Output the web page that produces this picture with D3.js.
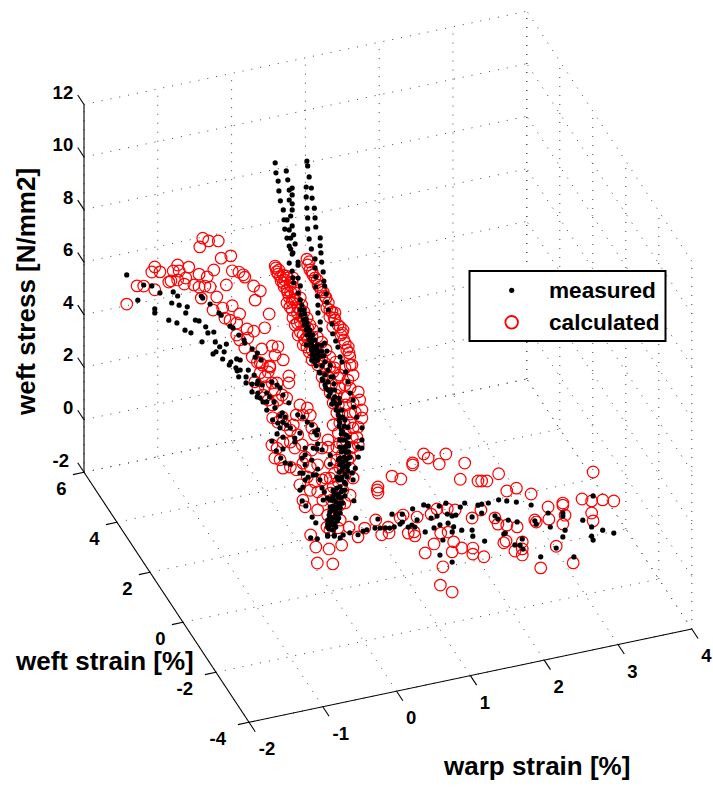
<!DOCTYPE html>
<html>
<head>
<meta charset="utf-8">
<script src="https://cdn.jsdelivr.net/npm/d3@7"></script>
<style>
body { margin: 0; background: #fff; }
svg { display: block; }
text { font-family: "Liberation Sans", Arial, sans-serif; font-weight: bold; fill: #000; }
</style>
</head>
<body>
<script>
const warpTicks = [-2, -1, 0, 1, 2, 3, 4];
const weftTicks = [-4, -2, 0, 2, 4, 6];
const stressTicks = [-2, 0, 2, 4, 6, 8, 10, 12];

// depth can't be read from a 2d view so weft is an estimate per band of points
const bandWefts = [3.5, 3, 1.5, 0, -0.5, -2];

const measuredWarp = [
  [-1.98,-1.75,-1.64,-1.83,-1.53,-1.35,-1.29,-1.37,-1.27,-1.60,-1.60,-1.16,-1.18,-1.41,-1.30,-1.05,-1.00,-.91,-1.19,-1.11,-.80,-.88,-.96,-.78,-.63,-.72,-.66,-.77,-.81,-.68,-.97,-.95,-.85,-.73,-.70,-.58,-.54,-.46,-.39,-.38,-.28,-.21,-.24,-.16,-.57,-.49,-.59,-.50],
  [-.08,-.07,-.04,-.03,-.01,.03,.04,.05,.08,.11,.13,.11,.15,.16,.07,.09,.11,.15,.15,.11,.15,.15,.13,.08,.15,.11,.17,.13,.19,.15,.16,.23,.23,.23,.17,.26,.23,.26,
   .35,.36,.38,.34,.41,.34,.42,.35,.45,.36,.46,.36,.47,.38,.53,.41,.53,.54,.46,.55,.46,.57,.47,.58,.47,.59,.49,.61,.50,.62,.64,.50,.53,.69,.53,.70,.74,.59,.77,.62,.80,
   .28,.31,.32,.34,.35,.36,.38,.39,.41,.41,.42,.43,.45,.46,.34,.46,.50,.54,.55,.39,
   .26,.27,.30,.31,.34,.35,.43,.38,.46,.39,.49,.41,.49,.55,.42,.50,.58],
  [-.89,-.93,-.89,-.91,-.81,-.81,-.78,-.70,-.65,-.66,-.73,-.59,-.73,-.65,-.66,-.62,-.58,-.53,-.53,-.49,-.46,-.39,-.35,-.31,-.23,-.43,-.42,-.53,-.32,-.35,-.28,-.45,-.38,-.31,-.26,-.21,-.35,-.31,-.39,-.11,-.04,.02,.08,-.15,-.08,-.15,-.46,-.40,-.31,-.34,-.28,-.21,-.01,-.01,-.05,-.01,.08,-.08,-.04,.03,.10,.10,.16,.22,.15,.16,.14,.19,-.01,-.04,-.08,.22,.25,-.05,.00,.33,.33,
   .12,.19,.26,.33,.39,.44,.46,.50,.53,.53,.52,.50,.49,.46,.44,.42,
   .33,.37,.39,.46,.50,.57,.57,.60,.56,.56,.53,.50,.35,.37,.42,.44,.46,.37,.33,
   .46,.49,.53,.50,.48,.45,.41,.37,.30,.23,.56,.50,.54,.57,.50,.54,.53,.48,.52,.50,.44,.48,.41,.46,.38,.16,.12,.15,
   .49,.54,.57,.60,.64,.65,.69,.76,.76,.76,.71,.67,.63,.64,.65,.71,
   .08,.16,.26,.14,.22,.30,.18,.26,.34,.22,.30,.38,.27,.35,.31,.39,.45,.35,.42,.49,.44,.48,.53,.45,.52,.48,.54,.58,.46,.58,.48,.58,.46,.54,.46,.58,.45,.57,.44,.54,.42,.48,.39,.53,.38,.45],
  [-.25,-.20,-.27,-.18,-.04,-.04,.05,.13,.17,.26,.06,.10,.03,.09,.02,.07,-.01,.03,-.01,.06,-.01,-.04,.13,-.04,.05,-.10,-.04,.03,.07,
   .02,.13,-.02,.07,.01,.11,-.04,.06,-.02,.03],
  [.23,.26,.33,.38,.49,.53,.56,.63,.69,.75,.72,.86,.83,.86,.94,.99,1.03,1.00,1.06,1.15,1.21,1.17,1.29,1.25,1.33,1.36,1.37,1.41,1.37,1.47,1.45,1.48],
  [1.20,1.25,1.20,1.22,1.20,1.31,1.33,1.37,1.47,1.47,1.48,1.55,1.60,1.60,1.64,1.69,1.78,1.82,1.83,1.90,1.92,1.94,1.96,2.05,2.07,2.08,2.12,2.15,2.16,2.27,2.32,2.34,2.40,2.50,2.53,2.61,2.70,2.70,2.70,2.73,2.85,2.97,3.09,3.11,3.09,3.11,3.24,3.39]
];
const measuredStress = [
  [7.88,7.36,7.26,6.83,6.93,6.86,6.67,6.45,6.31,6.36,6.21,6.18,5.96,5.82,5.65,5.61,5.55,5.27,5.31,5.16,5.01,5.02,4.73,4.62,4.45,4.40,4.17,4.24,4.18,3.91,6.48,6.39,6.10,5.69,5.59,5.10,5.01,4.69,4.46,4.34,4.06,3.86,3.72,3.56,3.73,3.80,3.63,3.47],
  [11.50,11.11,10.78,10.40,10.01,9.64,9.26,8.90,8.54,8.22,8.09,7.57,7.24,6.98,11.10,10.75,10.35,10.40,10.14,9.97,9.80,9.57,9.35,9.23,8.96,8.83,8.61,8.51,8.25,7.89,7.93,7.54,7.42,6.93,6.78,6.61,6.36,6.08,
   11.31,11.12,10.69,10.33,10.25,9.95,9.86,9.52,9.46,9.14,9.08,8.72,8.73,8.33,8.28,7.93,7.98,7.70,7.52,7.35,7.18,6.96,6.83,6.61,6.45,6.41,6.09,6.10,5.74,5.78,5.47,5.44,5.08,4.91,4.78,4.53,4.23,4.24,3.98,3.92,3.59,
   5.87,5.67,5.51,5.31,5.14,4.99,4.83,4.67,4.51,4.35,4.19,4.04,3.87,3.71,4.32,4.17,3.95,3.78,4.19,4.86,
   5.70,5.50,5.29,5.10,4.89,4.69,4.65,4.49,4.44,4.29,4.23,4.09,4.04,3.96,3.89,3.80,3.76],
  [5.90,5.51,5.52,5.27,5.21,4.98,5.45,5.21,4.95,4.85,4.89,4.77,4.59,4.50,4.36,4.30,4.12,4.09,4.43,4.26,4.81,4.65,4.52,4.22,3.88,4.03,3.80,3.78,3.55,3.45,3.37,3.36,3.20,3.19,3.05,2.91,3.00,2.62,2.79,3.35,3.22,3.00,2.85,2.49,2.64,2.34,2.56,2.15,2.17,1.84,1.62,1.53,2.03,1.77,1.67,1.39,1.52,1.12,1.09,.90,.94,1.96,2.09,1.82,1.90,1.13,.92,.70,.82,.56,.47,.37,.20,.04,-.18,1.21,1.56,
   5.23,4.77,4.27,3.92,3.51,3.02,2.71,2.33,2.02,1.75,1.37,1.00,.63,.27,-.10,-.47,
   4.98,4.51,4.00,3.47,2.90,2.48,1.87,1.32,.97,.59,.11,-.37,-.17,.20,.67,1.31,1.79,-.44,-.42,
   .54,.90,1.64,2.03,2.43,2.82,3.23,3.63,4.05,4.47,1.81,1.72,1.55,1.30,1.19,1.02,.72,.60,.42,.12,.01,-.16,-.27,-.45,.13,2.62,2.56,2.43,
   5.01,4.60,4.20,3.76,3.47,3.20,2.79,2.34,1.88,1.57,1.26,.86,.70,.43,-.37,1.64,
   5.32,5.28,5.15,5.07,5.02,4.81,4.81,4.65,4.53,4.52,4.36,4.24,4.15,4.02,3.82,3.74,3.66,3.49,3.41,3.18,3.17,2.89,2.78,2.59,2.55,2.28,2.20,2.10,2.06,1.76,1.59,1.53,1.37,1.25,1.11,1.07,.84,.81,.55,.33,.25,.07,.00,-.11,-.18,-.34],
  [.97,.72,.19,.10,.58,.12,.07,-.05,.04,.07,1.05,.88,.77,.62,.51,.40,1.02,1.22,1.48,.78,.83,.46,.90,.16,.11,1.53,1.57,1.57,1.05,
   1.08,1.09,.91,.90,.66,.72,.73,.56,.38,.31],
  [1.12,.47,.57,.59,.59,.91,.55,.51,.47,.48,.98,.90,.54,.60,.36,.41,.31,1.02,.56,1.08,1.00,.04,.12,.52,.55,.91,.19,-.41,-.96,.54,.97,.19],
  [2.06,2.06,1.45,1.63,.30,2.33,1.44,2.45,1.86,1.36,1.12,2.26,2.27,1.93,.84,2.26,1.72,1.57,2.30,.96,.98,2.19,1.45,.45,2.07,1.31,.40,.62,.23,1.84,1.21,1.07,-.21,1.40,.85,.00,1.28,1.17,.37,.61,-.48,.85,.52,1.69,.17,.01,.31,.11]
];

const calculatedWarp = [
  [-1.98,-1.84,-1.75,-1.60,-1.64,-1.60,-1.53,-1.35,-1.29,-1.14,-1.27,-1.41,-1.38,-1.29,-1.18,-1.20,-1.00,-.89,-.80,-.70,-.57,-.95,-.99,-.87,-.74,-1.07,-1.00,-.92,-.85,-.97,-.76,-.63,-.55,-.46,-.40,-.38,-.26,-.17,-.24,-.05,-.81,-.68,-.55,-.65,-.58,-.45,-.49,-.35,-.26,-.11,-.49,-.45,-.34,-.38,-.15,-.01,.07,.14,.03,-.28,-.17,-.04,-.21],
  [-.08,-.07,-.06,-.04,-.01,.00,.03,.04,.08,.09,.11,.08,.12,.15,.17,.22,.16,.22,.26,.28,.26,.30,.35,.36,.32,.42,.35,.42,.46,.50,.55,.49,.42,.59,.66,.16,.15,.09,.19,.23,.07,
   .35,.36,.39,.43,.49,.53,.57,.61,.64,.69,.73,.80,.83,.87,.89,.93,.96,.66,.73,.70,.84,.91,
   -.03,.03,.05,.12,.13,.17,.19,.26,.15,.28,.31,.19,.26,.35,.39,.23,.32,.43,.49,.55,.38,.30,.61,.47,.66,.74,
   .38,.42,.46,.50,.54,.59,.62,.66,.72,.77,.81,.85,.92],
  [-.23,-.23,-.49,-.62,-.55,-.69,-.39,-.46,-.55,-.42,-.32,-.45,-.08,.02,-.04,.06,-.45,-.32,-.38,-.28,-.21,.08,.12,-.46,-.31,-.39,-.15,-.05,.08,.22,.30,-.42,-.31,-.21,-.01,-.04,.06,.16,.33,-.08,.02,.12,-.04,-.01,.16,.23,.33,
   .16,.22,.26,.33,.37,.42,.44,.42,.42,.39,.37,.35,.46,.46,
   .64,.60,.71,.73,.76,.76,.71,.69,.64,.60,.64,.60,.53,.56,.64,.67,.60,.71,.60,.50,.46,.53,.37,
   .27,.39,.53,.30,.44,.57,.35,.46,.60,.41,.52,.44,.54,.49,.60,.52,.64,.54,.63,.50,.60,.49,.57,.46,.53,.44,.50,.41,.46,.38,.33,.30,.37,.27,
   -.59,-.51,-.65,-.58,-.51,-.38,-.26,-.13,-.17,-.11,-.21,-.35,-.13,.06,.16,.22],
  [-.27,-.20,-.02,-.18,.03,.15,.25,.10,-.05,-.04,-.01,.13],
  [.26,.35,.50,.58,.67,.68,.83,.87,1.06,.94,1.02,1.03,.72,.84,.53,.52,.53,1.00,1.00,1.15,1.21,1.36,1.45,1.25,1.33,1.47,1.38,1.48,1.29,1.17,1.41],
  [1.04,1.20,1.22,1.20,1.33,1.48,1.48,1.63,1.24,1.31,1.37,1.47,1.55,1.60,1.67,1.59,1.78,1.82,1.83,1.94,1.94,2.07,2.08,1.90,1.93,2.05,2.15,2.15,2.15,2.27,2.32,2.34,2.40,2.50,2.51,2.61,2.70,2.70,2.73,2.70,2.84,2.96,3.11,3.09,3.24,3.39,3.09,3.11]
];
const calculatedStress = [
  [6.77,7.38,7.32,7.09,7.79,7.96,7.73,7.66,7.85,7.68,7.61,7.27,7.30,7.28,7.29,7.07,7.33,7.16,7.37,7.76,7.77,8.67,8.36,8.52,8.44,6.96,6.84,6.83,6.75,6.40,6.32,6.70,7.19,7.09,6.95,6.85,6.44,6.20,5.89,5.25,5.85,5.85,5.86,5.45,5.33,5.49,5.17,4.86,4.72,4.76,4.71,4.50,4.51,4.15,3.98,4.01,3.93,3.39,3.64,3.75,3.46,3.22,3.51],
  [7.57,7.49,7.34,7.24,7.12,6.95,6.86,6.71,6.56,6.45,6.27,6.07,5.89,6.06,6.13,5.61,5.46,5.22,5.70,5.41,4.86,4.72,4.61,4.95,5.09,4.57,4.23,4.08,4.17,3.91,3.69,3.66,3.70,3.48,3.29,6.98,6.83,7.02,6.39,5.82,7.10,
   7.58,7.35,7.14,6.93,6.70,6.42,6.20,5.95,5.74,5.36,5.04,4.73,4.48,4.07,3.80,3.51,3.19,5.19,5.31,4.79,4.59,3.90,
   7.39,7.16,6.96,6.73,6.46,6.59,6.12,6.16,5.76,5.87,5.59,5.17,5.24,5.34,5.05,4.76,4.52,4.84,4.53,4.30,4.03,4.34,3.97,3.86,3.67,3.43,
   7.46,7.05,6.80,6.50,6.29,6.03,5.56,5.46,5.12,4.82,4.42,4.21,3.67],
  [4.90,4.64,5.44,5.25,5.06,4.95,4.73,4.77,4.68,4.48,4.23,3.93,3.71,3.54,3.30,3.24,3.44,3.39,3.23,3.07,2.83,2.74,2.45,2.41,2.43,2.25,2.11,2.17,1.90,1.89,1.88,1.89,1.44,1.42,1.69,1.47,1.26,1.29,1.25,.67,.91,.66,.06,-.21,.26,-.10,.11,
   5.09,4.60,4.27,3.92,3.52,3.11,2.33,1.81,1.32,.84,.32,-.17,2.71,1.94,
   4.42,4.82,3.74,3.42,3.02,2.72,2.40,2.03,1.68,1.32,.50,-.13,-.38,3.64,3.36,2.99,2.62,1.72,.90,1.00,4.53,4.11,4.70,
   4.91,4.84,4.76,4.58,4.43,4.27,4.25,4.04,3.95,3.80,3.69,3.40,3.34,3.03,2.96,2.63,2.41,2.24,2.03,1.88,1.66,1.47,1.23,.99,.65,.47,.12,-.12,-.42,-.56,.68,2.15,2.68,.72,
   5.53,5.22,4.69,4.38,4.15,4.07,4.08,3.36,3.00,2.59,2.37,1.78,1.27,.38,-.43,.68],
  [.30,-.20,-.38,-.82,-.98,-.33,.29,.35,.47,.92,.34,.63],
  [.39,.67,.89,.28,.52,.29,.77,.86,.67,.13,.13,-.03,2.43,2.25,2.13,2.02,1.90,2.77,2.69,3.02,2.83,2.51,2.84,.67,.82,.74,-.13,-.15,-.49,-.76,-1.43],
  [-.48,-.84,1.06,.69,.76,.67,.44,.25,2.26,3.39,3.97,1.82,3.18,3.15,3.11,2.05,1.64,1.38,3.29,2.57,1.27,2.60,1.12,.62,.67,.22,.24,.01,.51,2.26,1.24,1.15,-.63,1.63,1.16,.07,1.66,1.58,1.18,.86,-.70,1.66,2.60,1.51,1.46,1.33,1.05,.74]
];

const svg = d3.select("body").append("svg")
    .attr("width", 713)
    .attr("height", 787);

// oblique view: each data axis moves the point along its own screen direction
const originX = 249, originY = 722.3;
const warpX = d3.scaleLinear().domain([-2, 4]).range([0, 442.8]);
const warpY = d3.scaleLinear().domain([-2, 4]).range([0, -93.3]);
const weftX = d3.scaleLinear().domain([-4, 6]).range([0, -165]);
const weftY = d3.scaleLinear().domain([-4, 6]).range([0, -250]);
const stressY = d3.scaleLinear().domain([-2, 12]).range([0, -367.8]);

const px = (u, w) => originX + warpX(u) + weftX(w);
const py = (u, w, s) => originY + warpY(u) + weftY(w) + stressY(s);

function seg(g, a, b) {
    return g.append("line")
        .attr("x1", px(a[0], a[1])).attr("y1", py(a[0], a[1], a[2]))
        .attr("x2", px(b[0], b[1])).attr("y2", py(b[0], b[1], b[2]));
}

const grid = svg.append("g")
    .attr("stroke", "#444")
    .attr("stroke-width", 1)
    .attr("stroke-dasharray", "1 8");

warpTicks.forEach(u => {
    seg(grid, [u, -4, -2], [u, 6, -2]);
    seg(grid, [u, 6, -2], [u, 6, 12]);
});
weftTicks.forEach(w => {
    seg(grid, [-2, w, -2], [4, w, -2]);
    seg(grid, [4, w, -2], [4, w, 12]);
});
stressTicks.forEach(s => {
    seg(grid, [-2, 6, s], [4, 6, s]);
    seg(grid, [4, -4, s], [4, 6, s]);
});

const axes = svg.append("g").attr("stroke", "#000").attr("stroke-width", 1.1);
seg(axes, [-2, -4, -2], [4, -4, -2]);
seg(axes, [-2, -4, -2], [-2, 6, -2]);
seg(axes, [-2, 6, -2], [-2, 6, 12]);

// ticks point outwards along the other axis direction
warpTicks.forEach(u => seg(axes, [u, -4, -2], [u, -4.38, -2]));
weftTicks.forEach(w => seg(axes, [-2, w, -2], [-2.15, w, -2]));
stressTicks.forEach(s => seg(axes, [-2, 6, s], [-2, 6.38, s]));

const labels = svg.append("g").attr("font-size", 18.5);
warpTicks.forEach(u => {
    labels.append("text")
        .attr("text-anchor", "middle")
        .attr("x", px(u, -4) + (u < 0 ? 18 : 14.5))
        .attr("y", py(u, -4, -2) + 33)
        .text(u);
});
weftTicks.forEach(w => {
    labels.append("text")
        .attr("text-anchor", "end")
        .attr("x", px(-2, w) - (w < 0 ? 23 : 17.5))
        .attr("y", py(-2, w, -2) + 22.4)
        .text(w);
});
stressTicks.forEach(s => {
    labels.append("text")
        .attr("text-anchor", "end")
        .attr("x", px(-2, 6) - (s < 0 ? 15 : 10.8))
        .attr("y", py(-2, 6, s) - 5.8)
        .text(s);
});

svg.append("text").attr("font-size", 26).attr("x", 444).attr("y", 775).text("warp strain [%]");
svg.append("text").attr("font-size", 26).attr("x", 16).attr("y", 670).text("weft strain [%]");
svg.append("text").attr("font-size", 26)
    .attr("transform", "translate(35,415) rotate(-90)")
    .text("weft stress [N/mm2]");

function flatten(warp, stress) {
    const out = [];
    warp.forEach((band, b) => band.forEach((u, i) => {
        out.push({ warp: u, weft: bandWefts[b], stress: stress[b][i] });
    }));
    return out;
}

svg.append("g").selectAll("circle")
    .data(flatten(calculatedWarp, calculatedStress))
    .enter().append("circle")
    .attr("cx", d => px(d.warp, d.weft))
    .attr("cy", d => py(d.warp, d.weft, d.stress))
    .attr("r", 5.8)
    .attr("fill", "none")
    .attr("stroke", "#f00")
    .attr("stroke-width", 1.2);

svg.append("g").selectAll("circle")
    .data(flatten(measuredWarp, measuredStress))
    .enter().append("circle")
    .attr("cx", d => px(d.warp, d.weft))
    .attr("cy", d => py(d.warp, d.weft, d.stress))
    .attr("r", 2.6)
    .attr("fill", "#000");

const legend = svg.append("g");
legend.append("rect")
    .attr("x", 469.5).attr("y", 271)
    .attr("width", 196).attr("height", 70)
    .attr("fill", "#fff").attr("stroke", "#000").attr("stroke-width", 2);
legend.append("circle").attr("cx", 511.7).attr("cy", 290.3).attr("r", 2.6).attr("fill", "#000");
legend.append("circle").attr("cx", 511.7).attr("cy", 322.3).attr("r", 6.3)
    .attr("fill", "none").attr("stroke", "#f00").attr("stroke-width", 1.8);
legend.append("text").attr("font-size", 22.6).attr("x", 549).attr("y", 298).text("measured");
legend.append("text").attr("font-size", 22.6).attr("x", 549).attr("y", 330).text("calculated");
</script>
</body>
</html>
